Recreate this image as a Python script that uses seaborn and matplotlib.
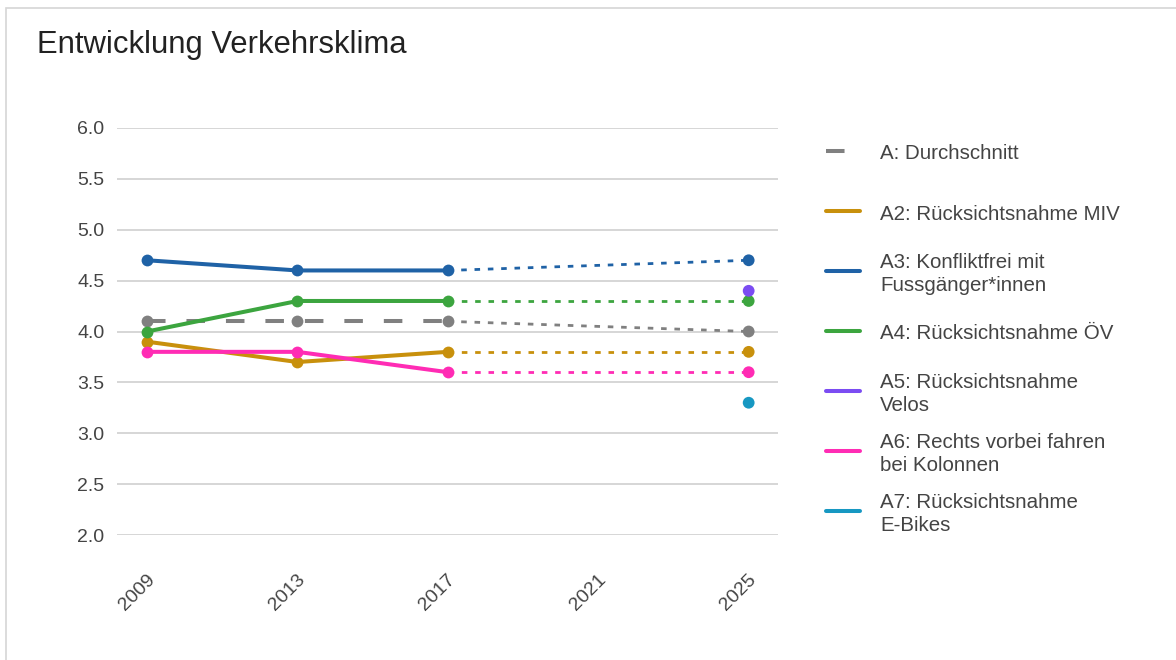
import numpy as np
import pandas as pd
import matplotlib
matplotlib.use('Agg')
import matplotlib.pyplot as plt
import matplotlib.transforms as mtransforms
from matplotlib.lines import Line2D
from matplotlib.patches import Rectangle
import seaborn as sns

# --- data -------------------------------------------------------------
years = [2009, 2013, 2017]
year_2025 = 2025
tick_years = [2009, 2013, 2017, 2021, 2025]

labels = ['A: Durchschnitt',
          'A2: Rücksichtsnahme MIV',
          'A3: Konfliktfrei mit\nFussgänger*innen',
          'A4: Rücksichtsnahme ÖV',
          'A5: Rücksichtsnahme\nVelos',
          'A6: Rechts vorbei fahren\nbei Kolonnen',
          'A7: Rücksichtsnahme\nE-Bikes']
colors = ['#808080', '#c8900c', '#1f62a6', '#3ca53f', '#7b4cf2', '#ff2cb4', '#1798c2']

durchschnitt = [4.1, 4.1, 4.1]
a2_miv = [3.9, 3.7, 3.8]
a3_fuss = [4.7, 4.6, 4.6]
a4_oev = [4.0, 4.3, 4.3]
a6_kolonnen = [3.8, 3.8, 3.6]

# 2025 values (A5 and A7 exist only for 2025)
werte_2025 = [4.0, 3.8, 4.7, 4.3, 4.4, 3.6, 3.3]

# --- frames -----------------------------------------------------------
hist_series = {labels[0]: durchschnitt, labels[1]: a2_miv, labels[2]: a3_fuss,
               labels[3]: a4_oev, labels[5]: a6_kolonnen}
hist = pd.DataFrame([(lab, y, v) for lab, vals in hist_series.items()
                     for y, v in zip(years, vals)], columns=['Serie', 'Jahr', 'Wert'])

rows = []
for lab, vals in hist_series.items():
    rows.append((lab, years[-1], vals[-1]))
    rows.append((lab, year_2025, werte_2025[labels.index(lab)]))
proj = pd.DataFrame(rows, columns=['Serie', 'Jahr', 'Wert'])

pts = pd.DataFrame({'Serie': labels, 'Jahr': year_2025, 'Wert': werte_2025})

pal = dict(zip(labels, colors))

# --- plot -------------------------------------------------------------
sns.set_theme(style='white')
plt.rcParams['font.family'] = ['Liberation Sans', 'DejaVu Sans']

W, H = 1176, 660
fig = plt.figure(figsize=(W / 100, H / 100), dpi=100)
ax = fig.add_axes([117 / W, 1 - 535 / H, (778 - 117) / W, (535 - 128) / H])

# dotted extensions 2017 -> 2025
sns.lineplot(data=proj, x='Jahr', y='Wert', hue='Serie', palette=pal,
             units='Serie', estimator=None, linewidth=2.0, legend=False, ax=ax,
             zorder=2)
for ln in ax.get_lines():
    ln.set_dashes((2.0, 2.8))

# measured lines 2009-2017
sns.lineplot(data=hist, x='Jahr', y='Wert', hue='Serie', style='Serie', palette=pal,
             dashes={lab: ((4.6, 5.2) if lab == labels[0] else '') for lab in hist_series},
             markers={lab: 'o' for lab in hist_series}, markersize=8.5,
             markeredgewidth=0, linewidth=2.9, legend=False, ax=ax, zorder=3)

# 2025 points
sns.scatterplot(data=pts, x='Jahr', y='Wert', hue='Serie', palette=pal, s=72,
                linewidth=0, legend=False, ax=ax, zorder=4)

ax.set_xlim(2008.2, 2025.78)
ax.set_ylim(2.0, 6.0)
ax.set_yticks(np.arange(2.0, 6.01, 0.5))
ax.set_yticklabels([f'{v:.1f}' for v in np.arange(2.0, 6.01, 0.5)])
ax.set_xticks(tick_years)
ax.set_xticklabels([str(y) for y in tick_years])
ax.set_xlabel('')
ax.set_ylabel('')
ax.grid(axis='y', color='#d0d0d0', linewidth=1.2)
ax.grid(axis='x', visible=False)
ax.set_axisbelow(True)
for sp in ax.spines.values():
    sp.set_visible(False)
ax.tick_params(axis='y', length=0, pad=9, labelsize=14, labelcolor='#444444')
ax.tick_params(axis='x', length=0, pad=30, labelsize=14, labelcolor='#444444')
offset = mtransforms.ScaledTranslation(5 / 100, 0, fig.dpi_scale_trans)
for lbl in ax.get_xticklabels():
    lbl.set_rotation(45)
    lbl.set_ha('right')
    lbl.set_va('center')
    lbl.set_rotation_mode('anchor')
    lbl.set_transform(lbl.get_transform() + offset)

# title
fig.text(37 / W, 1 - 53 / H, 'Entwicklung Verkehrsklima', fontsize=22.3,
         color='#222222', ha='left', va='baseline')

# legend (evenly spaced rows like the original)
for i, (lab, col) in enumerate(zip(labels, colors)):
    yc = 1 - (151 + i * 60) / H
    ls = (0, (4.6, 5.2)) if i == 0 else '-'
    fig.add_artist(Line2D([826 / W, 860 / W], [yc, yc], transform=fig.transFigure,
                          color=col, linewidth=2.9, linestyle=ls))
    fig.text(880 / W, yc - 3 / H, lab, fontsize=14.8, color='#444444', ha='left',
             va='center', linespacing=1.3)

# light frame around the chart
fig.add_artist(Rectangle((6 / W, -0.1), 1.2, 1.1 - 8 / H, transform=fig.transFigure,
                         fill=False, edgecolor='#d6d6d6', linewidth=1.2))

fig.savefig('out.png', dpi=100)
